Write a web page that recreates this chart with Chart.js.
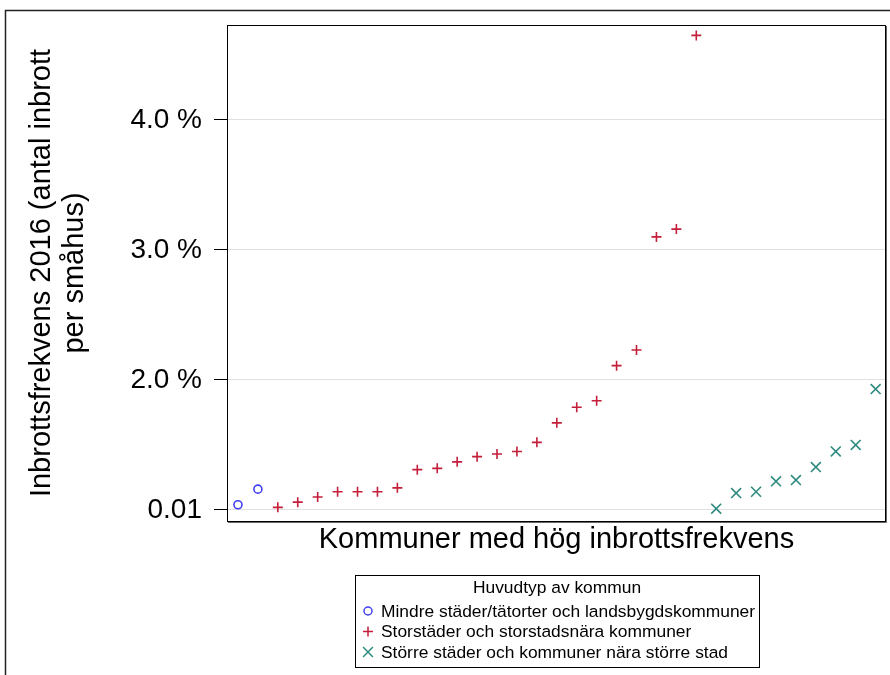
<!DOCTYPE html>
<html>
<head>
<meta charset="utf-8">
<script src="https://cdn.jsdelivr.net/npm/chart.js@4/dist/chart.umd.min.js"></script>
<style>
  body { margin: 0; background: #fff; }
  canvas { display: block; }
</style>
</head>
<body>
<canvas id="chart" width="890" height="675"></canvas>
<script>
// Inbrottsfrekvens per kommun (percent), sorted within each group
const groupNames = [
  'Mindre städer/tätorter och landsbygdskommuner',
  'Storstäder och storstadsnära kommuner',
  'Större städer och kommuner nära större stad'
];
const mindreValues = [1.04, 1.16];
const storValues = [1.02, 1.06, 1.10, 1.14, 1.14, 1.14, 1.17, 1.31, 1.32, 1.37, 1.41,
                    1.43, 1.45, 1.52, 1.67, 1.79, 1.84, 2.11, 2.23, 3.10, 3.16, 4.65];
const storreValues = [1.01, 1.13, 1.14, 1.22, 1.23, 1.33, 1.45, 1.50, 1.93];
const tickValues = [1, 2, 3, 4];
const tickLabels = ['0.01', '2.0 %', '3.0 %', '4.0 %'];

const colors = ['#4040f5', '#c41e3a', '#2e8a7e'];
const styles = ['circle', 'cross', 'crossRot'];
const radii = [4, 5, 7];

// kommuner are placed one after another along the x axis
let rank = 0;
const toPoints = vals => vals.map(v => ({ x: ++rank, y: v }));
const groups = [mindreValues, storValues, storreValues].map(toPoints);

const FONT = '"Liberation Sans", Arial, sans-serif';

const framePlugin = {
  id: 'frame',
  beforeDraw(chart) {
    const c = chart.ctx;
    c.save();
    c.strokeStyle = '#222';
    c.lineWidth = 1.5;
    c.beginPath();
    c.moveTo(5.5, 675);
    c.lineTo(5.5, 10.5);
    c.lineTo(890, 10.5);
    c.stroke();
    c.restore();
  },
  afterDraw(chart) {
    const a = chart.chartArea;
    const c = chart.ctx;
    c.save();
    c.strokeStyle = '#000';
    c.lineWidth = 1;
    c.strokeRect(a.left + 0.5, a.top + 0.5, a.right - a.left - 1, a.bottom - a.top);
    c.strokeStyle = '#666';
    c.beginPath();
    c.moveTo(a.right + 0.5, a.top + 1);
    c.lineTo(a.right + 0.5, a.bottom + 1.5);
    c.lineTo(a.left + 1, a.bottom + 1.5);
    c.stroke();

    // legend box
    const bx = 355, by = 575, bw = 404, bh = 92;
    c.strokeStyle = '#000';
    c.strokeRect(bx + 0.5, by + 0.5, bw, bh);
    c.fillStyle = '#000';
    c.font = '17.4px ' + FONT;
    c.textAlign = 'center';
    c.textBaseline = 'middle';
    c.fillText('Huvudtyp av kommun', bx + bw / 2, by + 13);
    c.textAlign = 'left';
    groupNames.forEach((name, i) => {
      const y = by + 36 + i * 20.5;
      c.strokeStyle = colors[i];
      c.fillStyle = 'rgba(0,0,0,0)';
      c.lineWidth = 1.5;
      Chart.helpers.drawPoint(c, { pointStyle: styles[i], radius: radii[i], borderWidth: 1.5 }, bx + 13, y);
      c.fillStyle = '#000';
      c.fillText(name, bx + 26, y + 1);
    });
    c.restore();
  }
};

new Chart(document.getElementById('chart'), {
  type: 'scatter',
  data: {
    datasets: groups.map((pts, i) => ({
      label: groupNames[i],
      data: pts,
      pointStyle: styles[i],
      pointRadius: radii[i],
      pointBorderWidth: 1.6,
      borderColor: colors[i],
      backgroundColor: 'rgba(0,0,0,0)'
    }))
  },
  options: {
    responsive: false,
    animation: false,
    layout: { autoPadding: false, padding: { left: 0, top: 25, right: 4, bottom: 118 } },
    plugins: { legend: { display: false }, tooltip: { enabled: false } },
    scales: {
      x: {
        type: 'linear',
        min: 0.45,
        max: 33.52,
        ticks: { display: false },
        grid: { display: false },
        border: { display: false },
        title: {
          display: true,
          text: 'Kommuner med hög inbrottsfrekvens',
          color: '#000',
          font: { family: FONT, size: 29, lineHeight: 1.2 },
          padding: { top: 0, bottom: 0 }
        },
        afterFit(scale) { scale.height = 36; }
      },
      y: {
        min: 0.915,
        max: 4.73,
        afterBuildTicks(scale) { scale.ticks = tickValues.map(v => ({ value: v })); },
        ticks: {
          color: '#000',
          padding: 12,
          font: { family: FONT, size: 28 },
          callback: (v) => tickLabels[tickValues.indexOf(v)]
        },
        grid: { color: '#e0e0e0', tickColor: '#000', tickLength: 13, lineWidth: 1 },
        border: { display: false },
        title: {
          display: true,
          text: ['Inbrottsfrekvens 2016 (antal inbrott', 'per småhus)'],
          color: '#000',
          font: { family: FONT, size: 29, lineHeight: 1.15 },
          padding: { top: 25, bottom: 0 }
        },
        afterFit(scale) {
          scale.width = 227;
          scale.paddingTop = 0;
          scale.paddingBottom = 0;
        }
      }
    }
  },
  plugins: [framePlugin]
});
</script>
</body>
</html>
